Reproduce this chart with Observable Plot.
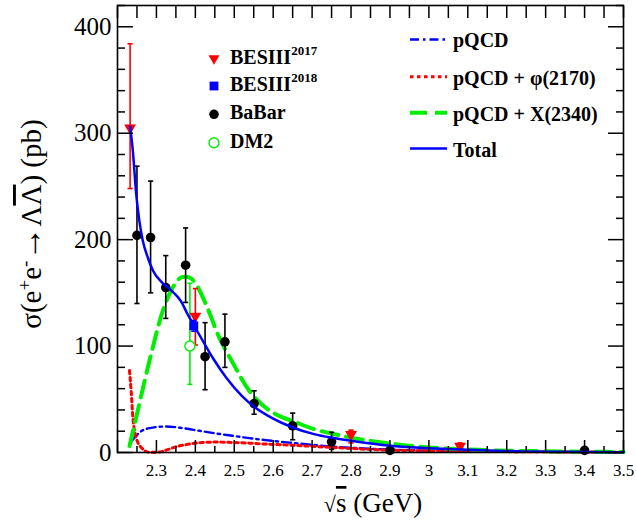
<!DOCTYPE html>
<html>
<head>
<meta charset="utf-8">
<script src="https://cdn.jsdelivr.net/npm/d3@7"></script>
<script src="https://cdn.jsdelivr.net/npm/@observablehq/plot@0.6"></script>
<style>
  html, body { margin: 0; padding: 0; background: white; }
  #chart { width: 636px; height: 525px; }
  #chart svg, #chart svg text { font-family: 'Liberation Serif', 'Times New Roman', serif !important; }
</style>
</head>
<body>
<div id="chart"></div>
<script>
// ---------- data ----------
const xMajor = [2.2, 2.3, 2.4, 2.5, 2.6, 2.7, 2.8, 2.9, 3.0, 3.1, 3.2, 3.3, 3.4, 3.5];
const xMinor = [2.25, 2.35, 2.45, 2.55, 2.65, 2.75, 2.85, 2.95, 3.05, 3.15, 3.25, 3.35, 3.45];
const xLabelTicks = [2.3, 2.4, 2.5, 2.6, 2.7, 2.8, 2.9, 3.0, 3.1, 3.2, 3.3, 3.4, 3.5];
const xLabelText = ["2.3", "2.4", "2.5", "2.6", "2.7", "2.8", "2.9", "3", "3.1", "3.2", "3.3", "3.4", "3.5"];
const yMajor = [0, 100, 200, 300, 400];
const yMinor = [20, 40, 60, 80, 120, 140, 160, 180, 220, 240, 260, 280, 320, 340, 360, 380, 420];

// BESIII 2017
const bes17X  = [2.2324, 2.400, 2.800, 3.080];
const bes17Y  = [305, 128, 17, 6];
const bes17Lo = [248, 101, 9, 3];
const bes17Hi = [384, 154, 21, 9];
// BESIII 2018
const bes18X  = [2.396];
const bes18Y  = [119];
const bes18Lo = [114];
const bes18Hi = [124];
// BaBar
const babarX  = [2.250, 2.285, 2.324, 2.375, 2.425, 2.476, 2.551, 2.650, 2.750, 2.900, 3.400];
const babarY  = [204, 202, 155, 176, 90, 104, 46, 25, 10, 2, 2];
const babarLo = [140, 150, 126, 141, 59, 80, 36, 12, 3, 0, 0];
const babarHi = [269, 255, 185, 211, 122, 130, 58, 37, 19, 5, 4];
// DM2
const dm2X  = [2.386];
const dm2Y  = [100];
const dm2Lo = [64];
const dm2Hi = [159];

// curves
const totalX = [2.2326, 2.2395, 2.248, 2.2564, 2.265, 2.278, 2.291, 2.3164, 2.342, 2.3633, 2.38, 2.397, 2.419, 2.4446, 2.48, 2.52, 2.551, 2.594, 2.65, 2.705, 2.748, 2.8, 2.9, 3.0, 3.1, 3.25, 3.5];
const totalY = [306, 283, 243, 217, 199, 183, 171, 159, 151, 142, 130, 119, 105, 89, 70, 53, 43, 33, 23.5, 17.3, 14, 11, 6.3, 4.1, 2.5, 1.0, 0.3];

const xresX = [2.2308, 2.248, 2.282, 2.3164, 2.342, 2.3677, 2.38, 2.402, 2.4274, 2.4615, 2.495, 2.5385, 2.581, 2.624, 2.65, 2.705, 2.748, 2.8, 2.9, 3.0, 3.15, 3.3, 3.5];
const xresY = [6, 33, 86, 133, 155, 165, 165, 158, 139, 108, 85, 58, 42, 33, 29.5, 22, 18, 14, 8.5, 4.8, 2.2, 1.2, 0.5];

const pqcdX = [2.2370, 2.2564, 2.282, 2.325, 2.3677, 2.41, 2.453, 2.496, 2.5385, 2.581, 2.65, 2.75, 2.9, 3.15, 3.5];
const pqcdY = [11, 18.8, 22.9, 24.4, 22.9, 20.4, 17.9, 15.7, 13.5, 11.6, 9, 5.6, 2.8, 1.0, 0.3];

const phiX = [2.2308, 2.235, 2.2395, 2.248, 2.261, 2.282, 2.3036, 2.325, 2.3505, 2.3846, 2.419, 2.453, 2.496, 2.5385, 2.581, 2.65, 2.75, 2.9, 3.15, 3.5];
const phiY = [77, 58, 33, 14, 4.7, 0.3, 0.3, 2.2, 5.4, 7.9, 9.4, 9.8, 9.4, 8.8, 7.9, 6.8, 4.8, 2.2, 1.0, 0.3];

// ---------- build tables ----------
const pts = (xs, ys) => xs.map((x, i) => ({x, y: ys[i]}));
const errPts = (xs, ys, lo, hi) => xs.map((x, i) => ({x, y: ys[i], lo: lo[i], hi: hi[i]}));
const bes17 = errPts(bes17X, bes17Y, bes17Lo, bes17Hi);
const bes18 = errPts(bes18X, bes18Y, bes18Lo, bes18Hi);
const babar = errPts(babarX, babarY, babarLo, babarHi);
const dm2 = errPts(dm2X, dm2Y, dm2Lo, dm2Hi);

const RED = "#ff0000", BLUE = "#0000ff", GREEN = "#00ee00", BLACK = "#000000";
const capSymbol = { draw(ctx, size) { const r = Math.sqrt(size / Math.PI); ctx.moveTo(-r, 0); ctx.lineTo(r, 0); } };

const errMarks = (data, color) => [
  Plot.ruleX(data, {x: "x", y1: "lo", y2: "hi", stroke: color, strokeWidth: 1.6}),
  Plot.dot(data, {x: "x", y: "lo", symbol: capSymbol, r: 2.6, stroke: color, fill: "none", strokeWidth: 1.6}),
  Plot.dot(data, {x: "x", y: "hi", symbol: capSymbol, r: 2.6, stroke: color, fill: "none", strokeWidth: 1.6})
];

const FONT = "Liberation Serif";
const blank = () => "";

const chart = Plot.plot({
  width: 636,
  height: 525,
  marginLeft: 117,
  marginRight: 13,
  marginTop: 5,
  marginBottom: 73,
  style: "font-family: 'Liberation Serif', serif; background: white; overflow: visible;",
  x: {domain: [2.2, 3.5]},
  y: {domain: [0, 420]},
  marks: [
    // curves
    Plot.line(pts(pqcdX, pqcdY), {x: "x", y: "y", stroke: BLUE, strokeWidth: 2.4, strokeDasharray: "9,4,2.5,4", curve: "monotone-x"}),
    Plot.line(pts(phiX, phiY), {x: "x", y: "y", stroke: RED, strokeWidth: 3, strokeDasharray: "3.5,3.5", curve: "monotone-x"}),
    Plot.line(pts(xresX, xresY), {x: "x", y: "y", stroke: GREEN, strokeWidth: 4, strokeDasharray: "17,8", curve: "monotone-x"}),
    // error bars
    ...errMarks(babar, BLACK),
    ...errMarks(dm2, GREEN),
    ...errMarks(bes17, RED),
    // points
    Plot.dot(babar, {x: "x", y: "y", r: 4.8, fill: BLACK}),
    Plot.dot(dm2, {x: "x", y: "y", r: 5, fill: "white", stroke: GREEN, strokeWidth: 1.4}),
    Plot.dot(bes17, {x: "x", y: "y", symbol: "triangle", rotate: 180, r: 4.4, fill: RED}),
    Plot.line(pts(totalX, totalY), {x: "x", y: "y", stroke: BLUE, strokeWidth: 2.5, curve: "monotone-x"}),
    ...errMarks(bes18, BLUE),
    Plot.dot(bes18, {x: "x", y: "y", symbol: "square", r: 5, fill: BLUE}),
    // frame & ticks (inward, ROOT style)
    Plot.frame({stroke: BLACK, strokeWidth: 1.6}),
    Plot.axisX({anchor: "bottom", ticks: xMajor, tickSize: -12, tickFormat: blank, label: null, strokeWidth: 1.5}),
    Plot.axisX({anchor: "bottom", ticks: xMinor, tickSize: -6, tickFormat: blank, label: null, strokeWidth: 1.5}),
    Plot.axisX({anchor: "top", ticks: xMajor, tickSize: -12, tickFormat: blank, label: null, strokeWidth: 1.5}),
    Plot.axisX({anchor: "top", ticks: xMinor, tickSize: -12, tickFormat: blank, label: null, strokeWidth: 1.5}),
    Plot.axisY({anchor: "left", ticks: yMajor, tickSize: -16, tickFormat: blank, label: null, strokeWidth: 1.5}),
    Plot.axisY({anchor: "left", ticks: yMinor, tickSize: -8, tickFormat: blank, label: null, strokeWidth: 1.5}),
    Plot.axisY({anchor: "right", ticks: yMajor, tickSize: -16, tickFormat: blank, label: null, strokeWidth: 1.5}),
    Plot.axisY({anchor: "right", ticks: yMinor, tickSize: -8, tickFormat: blank, label: null, strokeWidth: 1.5}),
    // tick labels
    Plot.axisX({anchor: "bottom", ticks: xLabelTicks, tickSize: 0, tickPadding: 11, label: null, fontSize: 17, fill: BLACK, fontFamily: FONT,
      tickFormat: d => xLabelText[xLabelTicks.findIndex(t => Math.abs(t - d) < 1e-9)]}),
    Plot.axisY({anchor: "left", ticks: yMajor, tickSize: 0, tickPadding: 6, label: null, fontSize: 25, fill: BLACK, fontFamily: FONT,
      tickFormat: d => String(d)})
  ]
});

document.getElementById("chart").appendChild(chart);

// ---------- titles & legend ----------
const svg = d3.select(chart);
const g = svg.append("g").attr("font-family", FONT).attr("fill", BLACK).attr("text-anchor", "start");

// y title
const yt = g.append("text")
  .attr("transform", "translate(41,224) rotate(-90)")
  .attr("text-anchor", "middle")
  .attr("font-size", 29);
yt.append("tspan").text("σ(e");
yt.append("tspan").attr("baseline-shift", "super").attr("font-size", 19).text("+");
yt.append("tspan").text("e");
yt.append("tspan").attr("baseline-shift", "super").attr("font-size", 19).text("-");
yt.append("tspan").attr("font-size", 34).text("→");
yt.append("tspan").text("Λ");
yt.append("tspan").style("text-decoration", "overline").text("Λ");
yt.append("tspan").text(") (pb)");

// x title
const xt = g.append("text")
  .attr("x", 373).attr("y", 512)
  .attr("text-anchor", "middle")
  .attr("font-size", 27);
xt.append("tspan").attr("font-size", 22).text("√");
xt.append("tspan").style("text-decoration", "overline").text("s");
xt.append("tspan").text(" (GeV)");

// marker legend
const mx = 214, tx = 230;
const lg1 = g.append("g").attr("font-weight", "bold").attr("font-size", 20).attr("text-anchor", "start");
lg1.append("path").attr("d", d3.symbol(d3.symbolTriangle, 52)()).attr("transform", `translate(${mx},58.5) rotate(180)`).attr("fill", RED);
lg1.append("rect").attr("x", mx - 4.4).attr("y", 86 - 4.4).attr("width", 8.8).attr("height", 8.8).attr("fill", BLUE);
lg1.append("circle").attr("cx", mx).attr("cy", 114.3).attr("r", 4.8).attr("fill", BLACK);
lg1.append("circle").attr("cx", mx).attr("cy", 142.7).attr("r", 5).attr("fill", "white").attr("stroke", GREEN).attr("stroke-width", 1.4);
const l1 = lg1.append("text").attr("x", tx).attr("y", 63.5);
l1.append("tspan").text("BESIII");
l1.append("tspan").attr("font-size", 13).attr("dy", -8.5).text("2017");
const l2 = lg1.append("text").attr("x", tx).attr("y", 90.5);
l2.append("tspan").text("BESIII");
l2.append("tspan").attr("font-size", 13).attr("dy", -8.5).text("2018");
lg1.append("text").attr("x", tx).attr("y", 119).text("BaBar");
lg1.append("text").attr("x", tx).attr("y", 147.5).text("DM2");

// line legend
const lx1 = 410, lx2 = 447, ltx = 453;
const lg2 = g.append("g").attr("font-weight", "bold").attr("font-size", 20).attr("text-anchor", "start");
const lineItems = [
  {y: 39.5, ty: 47, stroke: BLUE, w: 2.4, dash: "9,4,2.5,4", label: "pQCD"},
  {y: 76.7, ty: 84.5, stroke: RED, w: 3, dash: "3.5,3.5", label: "pQCD + φ(2170)"},
  {y: 112.7, ty: 121, stroke: GREEN, w: 4, dash: "17,8", label: "pQCD + X(2340)"},
  {y: 148.5, ty: 157, stroke: BLUE, w: 2.5, dash: null, label: "Total"}
];
for (const it of lineItems) {
  lg2.append("line").attr("x1", lx1).attr("x2", lx2).attr("y1", it.y).attr("y2", it.y)
    .attr("stroke", it.stroke).attr("stroke-width", it.w).attr("stroke-dasharray", it.dash);
  lg2.append("text").attr("x", ltx).attr("y", it.ty).text(it.label);
}
</script>
</body>
</html>
